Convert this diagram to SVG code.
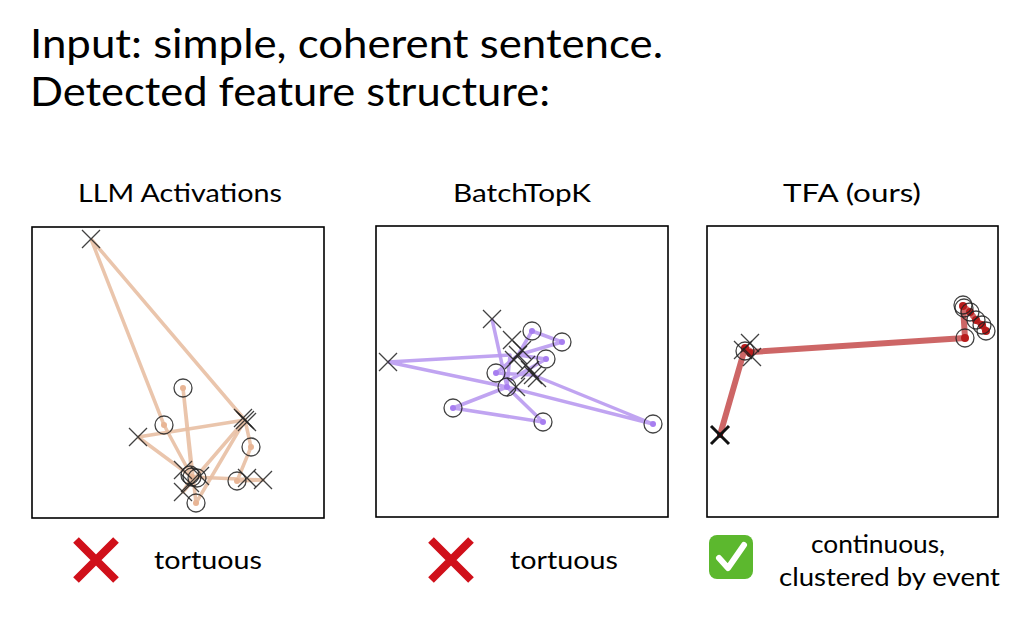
<svg xmlns="http://www.w3.org/2000/svg" width="1032" height="617" viewBox="0 0 1032 617">
<style>
text{font-family:Lato,"Noto Sans",sans-serif;fill:#000}
.t{font-size:40px}.h{font-size:25px}.l{font-size:25px}
.box{fill:#fff;stroke:#000;stroke-width:1.6}
.o{fill:none;stroke:#222;stroke-width:1.3;opacity:.85}
.x{stroke:#222;stroke-width:1.3;opacity:.85}
.la{fill:none;stroke:#e8bfa3;stroke-width:3.5;stroke-linejoin:round;opacity:.9}
.lb{fill:none;stroke:#b99af0;stroke-width:3.5;stroke-linejoin:round;opacity:.9}
.lc{fill:none;stroke:#c85555;stroke-width:6;stroke-linejoin:round;opacity:.9}
.rx{stroke:#d0101a;stroke-width:8;stroke-linecap:butt}
</style>
<defs>
<circle id="o" r="9" class="o"/>
<path id="x" d="M-9,-9L9,9M-9,9L9,-9" class="x"/>
</defs>
<rect width="1032" height="617" fill="#fff"/>
<text class="t" x="30" y="58" textLength="633" lengthAdjust="spacingAndGlyphs">Input: simple, coherent sentence.</text>
<text class="t" x="30" y="106" textLength="520" lengthAdjust="spacingAndGlyphs">Detected feature structure:</text>

<g id="panel-llm">
<text class="h" x="78" y="202" textLength="204" lengthAdjust="spacingAndGlyphs">LLM Activations</text>
<rect class="box" x="32" y="227" width="292" height="291"/>
<polyline class="la" points="91,239 164,425 192,477 183,388 196,503 245,420 91,239"/>
<polyline class="la" points="138,437 245,420 251,447 237,481 263,480 192,477 138,437"/>
<polyline class="la" points="245,420 183,492 192,477"/>
<g fill="#e8b595"><circle cx="183" cy="388" r="3"/><circle cx="164" cy="425" r="3"/><circle cx="251" cy="447" r="3"/><circle cx="237" cy="481" r="3"/><circle cx="196" cy="503" r="3"/><circle cx="192" cy="477" r="3"/></g>
<use href="#o" x="183" y="388"/><use href="#o" x="164" y="425"/><use href="#o" x="251" y="447"/><use href="#o" x="237" y="481"/><use href="#o" x="196" y="503"/><use href="#o" x="192" y="477"/><use href="#o" x="197" y="478"/><use href="#o" x="190" y="475"/>
<use href="#x" x="91" y="239"/><use href="#x" x="138" y="437"/><use href="#x" x="245" y="420"/><use href="#x" x="243" y="418"/><use href="#x" x="247" y="422"/><use href="#x" x="247" y="478"/><use href="#x" x="263" y="480"/><use href="#x" x="183" y="470"/><use href="#x" x="200" y="476"/><use href="#x" x="183" y="492"/><use href="#x" x="190" y="483"/>
</g>

<g id="panel-batchtopk">
<text class="h" x="453" y="202" textLength="138" lengthAdjust="spacingAndGlyphs">BatchTopK</text>
<rect class="box" x="376" y="226" width="292" height="291"/>
<polyline class="lb" points="388,362 510,355 507,387 453,408 543,422 507,387 388,362"/>
<polyline class="lb" points="492,319 507,387 653,424 533,375 496,373 518,355 562,342 532,331 518,355 546,359 510,380"/>
<g fill="#a77ef0"><circle cx="532" cy="331" r="3"/><circle cx="562" cy="342" r="3"/><circle cx="546" cy="359" r="3"/><circle cx="496" cy="373" r="3"/><circle cx="507" cy="387" r="3"/><circle cx="453" cy="408" r="3"/><circle cx="543" cy="422" r="3"/><circle cx="653" cy="424" r="3"/></g>
<use href="#o" x="532" y="331"/><use href="#o" x="562" y="342"/><use href="#o" x="546" y="359"/><use href="#o" x="496" y="373"/><use href="#o" x="507" y="387"/><use href="#o" x="453" y="408"/><use href="#o" x="543" y="422"/><use href="#o" x="653" y="424"/>
<use href="#x" x="388" y="362"/><use href="#x" x="492" y="319"/><use href="#x" x="512" y="340"/><use href="#x" x="518" y="355"/><use href="#x" x="522" y="350"/><use href="#x" x="514" y="360"/><use href="#x" x="526" y="365"/><use href="#x" x="533" y="375"/><use href="#x" x="530" y="370"/><use href="#x" x="537" y="378"/><use href="#x" x="516" y="387"/>
</g>

<g id="panel-tfa">
<text class="h" x="783" y="202" textLength="138" lengthAdjust="spacingAndGlyphs">TFA (ours)</text>
<rect class="box" x="707" y="226" width="291" height="291"/>
<polyline class="lc" points="720,435 745,348 752,352 965,338 963,306 970,312 976,320 982,325 986,331"/>
<g fill="#b81c1c"><circle cx="745" cy="348" r="4"/><circle cx="750" cy="353" r="4"/><circle cx="963" cy="306" r="4"/><circle cx="970" cy="312" r="4"/><circle cx="976" cy="320" r="4"/><circle cx="982" cy="325" r="4"/><circle cx="986" cy="331" r="4"/><circle cx="965" cy="338" r="4"/><circle cx="720" cy="435" r="3"/></g>
<use href="#o" x="745" y="351"/><use href="#o" x="963" y="305"/><use href="#o" x="964" y="308"/><use href="#o" x="970" y="312"/><use href="#o" x="976" y="320"/><use href="#o" x="982" y="325"/><use href="#o" x="986" y="331"/><use href="#o" x="965" y="338"/>
<use href="#x" x="750" y="343"/><use href="#x" x="743" y="350"/><use href="#x" x="752" y="357"/>
<path d="M711,426L729,444M711,444L729,426" stroke="#111" stroke-width="3"/>
</g>

<g id="verdicts">
<path class="rx" d="M76,540L116,580M116,540L76,580"/>
<text class="l" x="154" y="569" textLength="108" lengthAdjust="spacingAndGlyphs">tortuous</text>
<path class="rx" d="M431,540L471,580M471,540L431,580"/>
<text class="l" x="510" y="569" textLength="108" lengthAdjust="spacingAndGlyphs">tortuous</text>
<rect x="709" y="535" width="44" height="44" rx="8" fill="#5cb82e"/>
<path d="M719,558L728,568L744,545" fill="none" stroke="#fff" stroke-width="6" stroke-linecap="round" stroke-linejoin="round"/>
<text class="l" x="811" y="553" textLength="134" lengthAdjust="spacingAndGlyphs">continuous,</text>
<text class="l" x="779" y="586" textLength="221" lengthAdjust="spacingAndGlyphs">clustered by event</text>
</g>
</svg>
